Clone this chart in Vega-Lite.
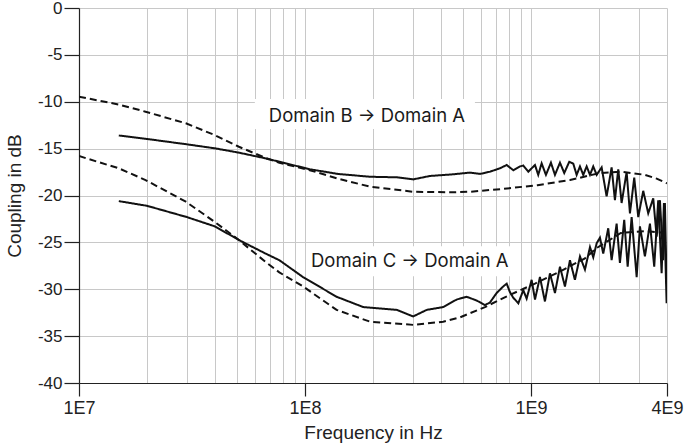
{
  "$schema": "https://vega.github.io/schema/vega-lite/v6.json",
  "width": 588,
  "height": 375,
  "autosize": {"type": "none"},
  "padding": {"left": 79, "top": 8, "right": 18, "bottom": 65},
  "background": "white",
  "config": {
    "font": "Liberation Sans",
    "view": {"stroke": null}
  },
  "layer": [
    {
      "data": {"values": [
        {"x1": 6.0e7, "x2": 5.65e8, "y1": -9.7, "y2": -12.9},
        {"x1": 1.01e8, "x2": 8.94e8, "y1": -25.4, "y2": -28.6}
      ]},
      "mark": {"type": "rect", "color": "white"},
      "encoding": {
        "x": {"field": "x1", "type": "quantitative", "scale": {"type": "log", "domain": [1e7, 4e9], "nice": false},
          "axis": {
            "values": [1e7, 2e7, 3e7, 4e7, 5e7, 6e7, 7e7, 8e7, 9e7, 1e8, 2e8, 3e8, 4e8, 5e8, 6e8, 7e8, 8e8, 9e8, 1e9, 2e9, 3e9, 4e9],
            "labelExpr": "datum.value == 1e7 ? '1E7' : datum.value == 1e8 ? '1E8' : datum.value == 1e9 ? '1E9' : datum.value == 4e9 ? '4E9' : ''",
            "tickColor": {"condition": {"test": "datum.value == 1e7 || datum.value == 1e8 || datum.value == 1e9 || datum.value == 4e9", "value": "#222"}, "value": "transparent"},
            "grid": true,
            "gridColor": "#c8c8c8",
            "gridWidth": 1,
            "domainColor": "#222",
            "domainWidth": 1.2,
            "tickSize": 13,
            "tickWidth": 1.2,
            "labelPadding": 3,
            "labelFontSize": 18,
            "labelColor": "#222",
            "labelFlush": false,
            "labelOverlap": false,
            "title": "Frequency in Hz",
            "titleFontSize": 19,
            "titleFontWeight": "normal",
            "titleColor": "#222",
            "titlePadding": 6
          }
        },
        "x2": {"field": "x2"},
        "y": {"field": "y1", "type": "quantitative", "scale": {"domain": [-40, 0], "nice": false},
          "axis": {
            "values": [-40, -35, -30, -25, -20, -15, -10, -5, 0],
            "labelExpr": "'' + datum.value",
            "grid": true,
            "gridColor": "#c8c8c8",
            "gridWidth": 1,
            "domainColor": "#222",
            "domainWidth": 1.2,
            "tickColor": "#222",
            "tickSize": 15,
            "tickWidth": 1.2,
            "labelPadding": 2,
            "labelFontSize": 17,
            "labelColor": "#222",
            "labelFlush": false,
            "title": "Coupling in dB",
            "titleFontSize": 19,
            "titleFontWeight": "normal",
            "titleColor": "#222",
            "titlePadding": 13
          }
        },
        "y2": {"field": "y2"}
      }
    },
    {
      "data": {"values": [
        {"x": 1.88e8, "y": -11.5, "label": "Domain B → Domain A"},
        {"x": 2.91e8, "y": -27.0, "label": "Domain C → Domain A"}
      ]},
      "mark": {"type": "text", "font": "Inter", "fontSize": 18.5, "color": "#1a1a1a", "align": "center", "baseline": "middle"},
      "encoding": {
        "x": {"field": "x", "type": "quantitative"},
        "y": {"field": "y", "type": "quantitative"},
        "text": {"field": "label"}
      }
    },
    {
      "data": {"values": [
        {"series": "B_meas", "kind": "meas", "f": 1.5e7, "db": -13.6},
        {"series": "B_meas", "kind": "meas", "f": 2.0e7, "db": -13.97},
        {"series": "B_meas", "kind": "meas", "f": 3.0e7, "db": -14.54},
        {"series": "B_meas", "kind": "meas", "f": 4.0e7, "db": -14.97},
        {"series": "B_meas", "kind": "meas", "f": 5.1e7, "db": -15.43},
        {"series": "B_meas", "kind": "meas", "f": 6.7e7, "db": -16.04},
        {"series": "B_meas", "kind": "meas", "f": 7.7e7, "db": -16.4},
        {"series": "B_meas", "kind": "meas", "f": 1.05e8, "db": -17.2},
        {"series": "B_meas", "kind": "meas", "f": 1.4e8, "db": -17.7},
        {"series": "B_meas", "kind": "meas", "f": 1.94e8, "db": -18.0},
        {"series": "B_meas", "kind": "meas", "f": 2.55e8, "db": -18.06},
        {"series": "B_meas", "kind": "meas", "f": 3.01e8, "db": -18.28},
        {"series": "B_meas", "kind": "meas", "f": 3.57e8, "db": -17.92},
        {"series": "B_meas", "kind": "meas", "f": 4.52e8, "db": -17.74},
        {"series": "B_meas", "kind": "meas", "f": 5.37e8, "db": -17.56},
        {"series": "B_meas", "kind": "meas", "f": 5.95e8, "db": -17.7},
        {"series": "B_meas", "kind": "meas", "f": 6.59e8, "db": -17.46},
        {"series": "B_meas", "kind": "meas", "f": 7.29e8, "db": -17.1},
        {"series": "B_meas", "kind": "meas", "f": 7.81e8, "db": -16.75},
        {"series": "B_meas", "kind": "meas", "f": 8.35e8, "db": -17.3},
        {"series": "B_meas", "kind": "meas", "f": 8.94e8, "db": -16.9},
        {"series": "B_meas", "kind": "meas", "f": 9.25e8, "db": -16.8},
        {"series": "B_meas", "kind": "meas", "f": 9.73e8, "db": -17.46},
        {"series": "B_meas", "kind": "meas", "f": 1.042e9, "db": -16.75},
        {"series": "B_meas", "kind": "meas", "f": 1.077e9, "db": -17.8},
        {"series": "B_meas", "kind": "meas", "f": 1.115e9, "db": -16.57},
        {"series": "B_meas", "kind": "meas", "f": 1.165e9, "db": -17.8},
        {"series": "B_meas", "kind": "meas", "f": 1.226e9, "db": -16.5},
        {"series": "B_meas", "kind": "meas", "f": 1.277e9, "db": -17.8},
        {"series": "B_meas", "kind": "meas", "f": 1.344e9, "db": -16.5},
        {"series": "B_meas", "kind": "meas", "f": 1.404e9, "db": -17.6},
        {"series": "B_meas", "kind": "meas", "f": 1.478e9, "db": -16.4},
        {"series": "B_meas", "kind": "meas", "f": 1.539e9, "db": -16.6},
        {"series": "B_meas", "kind": "meas", "f": 1.593e9, "db": -17.8},
        {"series": "B_meas", "kind": "meas", "f": 1.648e9, "db": -16.9},
        {"series": "B_meas", "kind": "meas", "f": 1.704e9, "db": -17.8},
        {"series": "B_meas", "kind": "meas", "f": 1.764e9, "db": -16.9},
        {"series": "B_meas", "kind": "meas", "f": 1.825e9, "db": -17.8},
        {"series": "B_meas", "kind": "meas", "f": 1.887e9, "db": -16.9},
        {"series": "B_meas", "kind": "meas", "f": 1.953e9, "db": -17.8},
        {"series": "B_meas", "kind": "meas", "f": 2.055e9, "db": -17.0},
        {"series": "B_meas", "kind": "meas", "f": 2.162e9, "db": -20.1},
        {"series": "B_meas", "kind": "meas", "f": 2.275e9, "db": -17.0},
        {"series": "B_meas", "kind": "meas", "f": 2.353e9, "db": -20.5},
        {"series": "B_meas", "kind": "meas", "f": 2.434e9, "db": -17.2},
        {"series": "B_meas", "kind": "meas", "f": 2.519e9, "db": -20.8},
        {"series": "B_meas", "kind": "meas", "f": 2.651e9, "db": -17.5},
        {"series": "B_meas", "kind": "meas", "f": 2.742e9, "db": -21.9},
        {"series": "B_meas", "kind": "meas", "f": 2.865e9, "db": -18.1},
        {"series": "B_meas", "kind": "meas", "f": 2.984e9, "db": -22.3},
        {"series": "B_meas", "kind": "meas", "f": 3.14e9, "db": -19.5},
        {"series": "B_meas", "kind": "meas", "f": 3.304e9, "db": -21.9},
        {"series": "B_meas", "kind": "meas", "f": 3.477e9, "db": -20.3},
        {"series": "B_meas", "kind": "meas", "f": 3.599e9, "db": -24.4},
        {"series": "B_meas", "kind": "meas", "f": 3.722e9, "db": -20.5},
        {"series": "B_meas", "kind": "meas", "f": 3.849e9, "db": -26.9},
        {"series": "B_meas", "kind": "meas", "f": 3.916e9, "db": -20.8},
        {"series": "B_meas", "kind": "meas", "f": 3.984e9, "db": -29.4},

        {"series": "B_sim", "kind": "sim", "f": 1.0e7, "db": -9.46},
        {"series": "B_sim", "kind": "sim", "f": 1.5e7, "db": -10.3},
        {"series": "B_sim", "kind": "sim", "f": 1.97e7, "db": -11.06},
        {"series": "B_sim", "kind": "sim", "f": 2.97e7, "db": -12.3},
        {"series": "B_sim", "kind": "sim", "f": 3.98e7, "db": -13.55},
        {"series": "B_sim", "kind": "sim", "f": 5.1e7, "db": -14.8},
        {"series": "B_sim", "kind": "sim", "f": 6.7e7, "db": -16.0},
        {"series": "B_sim", "kind": "sim", "f": 7.7e7, "db": -16.5},
        {"series": "B_sim", "kind": "sim", "f": 1.05e8, "db": -17.3},
        {"series": "B_sim", "kind": "sim", "f": 1.4e8, "db": -18.2},
        {"series": "B_sim", "kind": "sim", "f": 1.94e8, "db": -19.06},
        {"series": "B_sim", "kind": "sim", "f": 3.01e8, "db": -19.6},
        {"series": "B_sim", "kind": "sim", "f": 4.52e8, "db": -19.66},
        {"series": "B_sim", "kind": "sim", "f": 5.37e8, "db": -19.6},
        {"series": "B_sim", "kind": "sim", "f": 7.5e8, "db": -19.3},
        {"series": "B_sim", "kind": "sim", "f": 1.07e9, "db": -18.9},
        {"series": "B_sim", "kind": "sim", "f": 1.49e9, "db": -18.35},
        {"series": "B_sim", "kind": "sim", "f": 2.02e9, "db": -17.6},
        {"series": "B_sim", "kind": "sim", "f": 2.5e9, "db": -17.45},
        {"series": "B_sim", "kind": "sim", "f": 3.2e9, "db": -17.8},
        {"series": "B_sim", "kind": "sim", "f": 3.6e9, "db": -18.2},
        {"series": "B_sim", "kind": "sim", "f": 4.0e9, "db": -18.7},

        {"series": "C_meas", "kind": "meas", "f": 1.5e7, "db": -20.6},
        {"series": "C_meas", "kind": "meas", "f": 2.0e7, "db": -21.1},
        {"series": "C_meas", "kind": "meas", "f": 3.0e7, "db": -22.3},
        {"series": "C_meas", "kind": "meas", "f": 4.0e7, "db": -23.3},
        {"series": "C_meas", "kind": "meas", "f": 5.1e7, "db": -24.75},
        {"series": "C_meas", "kind": "meas", "f": 6.7e7, "db": -26.2},
        {"series": "C_meas", "kind": "meas", "f": 7.7e7, "db": -26.9},
        {"series": "C_meas", "kind": "meas", "f": 9.8e7, "db": -28.7},
        {"series": "C_meas", "kind": "meas", "f": 1.38e8, "db": -30.8},
        {"series": "C_meas", "kind": "meas", "f": 1.81e8, "db": -31.9},
        {"series": "C_meas", "kind": "meas", "f": 2.55e8, "db": -32.2},
        {"series": "C_meas", "kind": "meas", "f": 3.01e8, "db": -32.9},
        {"series": "C_meas", "kind": "meas", "f": 3.46e8, "db": -32.2},
        {"series": "C_meas", "kind": "meas", "f": 4.09e8, "db": -31.9},
        {"series": "C_meas", "kind": "meas", "f": 4.69e8, "db": -31.1},
        {"series": "C_meas", "kind": "meas", "f": 5.19e8, "db": -30.8},
        {"series": "C_meas", "kind": "meas", "f": 5.75e8, "db": -31.2},
        {"series": "C_meas", "kind": "meas", "f": 6.26e8, "db": -31.7},
        {"series": "C_meas", "kind": "meas", "f": 6.59e8, "db": -31.4},
        {"series": "C_meas", "kind": "meas", "f": 7.05e8, "db": -30.4},
        {"series": "C_meas", "kind": "meas", "f": 7.54e8, "db": -29.7},
        {"series": "C_meas", "kind": "meas", "f": 7.81e8, "db": -29.4},
        {"series": "C_meas", "kind": "meas", "f": 8.07e8, "db": -30.3},
        {"series": "C_meas", "kind": "meas", "f": 8.35e8, "db": -30.9},
        {"series": "C_meas", "kind": "meas", "f": 8.79e8, "db": -31.5},
        {"series": "C_meas", "kind": "meas", "f": 9.25e8, "db": -30.1},
        {"series": "C_meas", "kind": "meas", "f": 9.57e8, "db": -31.0},
        {"series": "C_meas", "kind": "meas", "f": 1.007e9, "db": -29.0},
        {"series": "C_meas", "kind": "meas", "f": 1.042e9, "db": -31.1},
        {"series": "C_meas", "kind": "meas", "f": 1.096e9, "db": -28.7},
        {"series": "C_meas", "kind": "meas", "f": 1.153e9, "db": -31.3},
        {"series": "C_meas", "kind": "meas", "f": 1.214e9, "db": -28.3},
        {"series": "C_meas", "kind": "meas", "f": 1.277e9, "db": -30.4},
        {"series": "C_meas", "kind": "meas", "f": 1.344e9, "db": -27.6},
        {"series": "C_meas", "kind": "meas", "f": 1.414e9, "db": -29.7},
        {"series": "C_meas", "kind": "meas", "f": 1.488e9, "db": -26.9},
        {"series": "C_meas", "kind": "meas", "f": 1.565e9, "db": -29.0},
        {"series": "C_meas", "kind": "meas", "f": 1.648e9, "db": -26.5},
        {"series": "C_meas", "kind": "meas", "f": 1.734e9, "db": -27.9},
        {"series": "C_meas", "kind": "meas", "f": 1.825e9, "db": -25.5},
        {"series": "C_meas", "kind": "meas", "f": 1.887e9, "db": -26.6},
        {"series": "C_meas", "kind": "meas", "f": 1.953e9, "db": -25.1},
        {"series": "C_meas", "kind": "meas", "f": 2.02e9, "db": -24.5},
        {"series": "C_meas", "kind": "meas", "f": 2.089e9, "db": -26.2},
        {"series": "C_meas", "kind": "meas", "f": 2.198e9, "db": -23.5},
        {"series": "C_meas", "kind": "meas", "f": 2.275e9, "db": -26.9},
        {"series": "C_meas", "kind": "meas", "f": 2.394e9, "db": -23.0},
        {"series": "C_meas", "kind": "meas", "f": 2.476e9, "db": -27.2},
        {"series": "C_meas", "kind": "meas", "f": 2.587e9, "db": -22.6},
        {"series": "C_meas", "kind": "meas", "f": 2.679e9, "db": -27.6},
        {"series": "C_meas", "kind": "meas", "f": 2.79e9, "db": -22.3},
        {"series": "C_meas", "kind": "meas", "f": 2.936e9, "db": -28.7},
        {"series": "C_meas", "kind": "meas", "f": 3.036e9, "db": -23.3},
        {"series": "C_meas", "kind": "meas", "f": 3.194e9, "db": -26.5},
        {"series": "C_meas", "kind": "meas", "f": 3.362e9, "db": -23.0},
        {"series": "C_meas", "kind": "meas", "f": 3.512e9, "db": -27.6},
        {"series": "C_meas", "kind": "meas", "f": 3.658e9, "db": -20.5},
        {"series": "C_meas", "kind": "meas", "f": 3.787e9, "db": -28.3},
        {"series": "C_meas", "kind": "meas", "f": 3.877e9, "db": -20.8},
        {"series": "C_meas", "kind": "meas", "f": 3.984e9, "db": -31.5},

        {"series": "C_sim", "kind": "sim", "f": 1.0e7, "db": -15.79},
        {"series": "C_sim", "kind": "sim", "f": 1.5e7, "db": -17.1},
        {"series": "C_sim", "kind": "sim", "f": 1.97e7, "db": -18.35},
        {"series": "C_sim", "kind": "sim", "f": 2.97e7, "db": -20.66},
        {"series": "C_sim", "kind": "sim", "f": 3.98e7, "db": -22.8},
        {"series": "C_sim", "kind": "sim", "f": 5.1e7, "db": -24.75},
        {"series": "C_sim", "kind": "sim", "f": 6.7e7, "db": -27.1},
        {"series": "C_sim", "kind": "sim", "f": 7.7e7, "db": -28.2},
        {"series": "C_sim", "kind": "sim", "f": 9.8e7, "db": -29.7},
        {"series": "C_sim", "kind": "sim", "f": 1.38e8, "db": -32.2},
        {"series": "C_sim", "kind": "sim", "f": 1.94e8, "db": -33.46},
        {"series": "C_sim", "kind": "sim", "f": 3.01e8, "db": -33.8},
        {"series": "C_sim", "kind": "sim", "f": 4.09e8, "db": -33.46},
        {"series": "C_sim", "kind": "sim", "f": 4.85e8, "db": -33.0},
        {"series": "C_sim", "kind": "sim", "f": 6.26e8, "db": -31.9},
        {"series": "C_sim", "kind": "sim", "f": 8.07e8, "db": -30.6},
        {"series": "C_sim", "kind": "sim", "f": 1.042e9, "db": -29.4},
        {"series": "C_sim", "kind": "sim", "f": 1.344e9, "db": -28.1},
        {"series": "C_sim", "kind": "sim", "f": 1.734e9, "db": -26.7},
        {"series": "C_sim", "kind": "sim", "f": 1.953e9, "db": -25.6},
        {"series": "C_sim", "kind": "sim", "f": 2.5e9, "db": -24.0},
        {"series": "C_sim", "kind": "sim", "f": 3.2e9, "db": -23.8},
        {"series": "C_sim", "kind": "sim", "f": 4.0e9, "db": -24.0}
      ]},
      "mark": {"type": "line", "color": "#111", "strokeWidth": 2, "clip": true},
      "encoding": {
        "x": {"field": "f", "type": "quantitative"},
        "y": {"field": "db", "type": "quantitative"},
        "detail": {"field": "series", "type": "nominal"},
        "strokeDash": {"field": "kind", "type": "nominal", "scale": {"domain": ["meas", "sim"], "range": [[1, 0], [7, 4]]}, "legend": null}
      }
    }
  ]
}
